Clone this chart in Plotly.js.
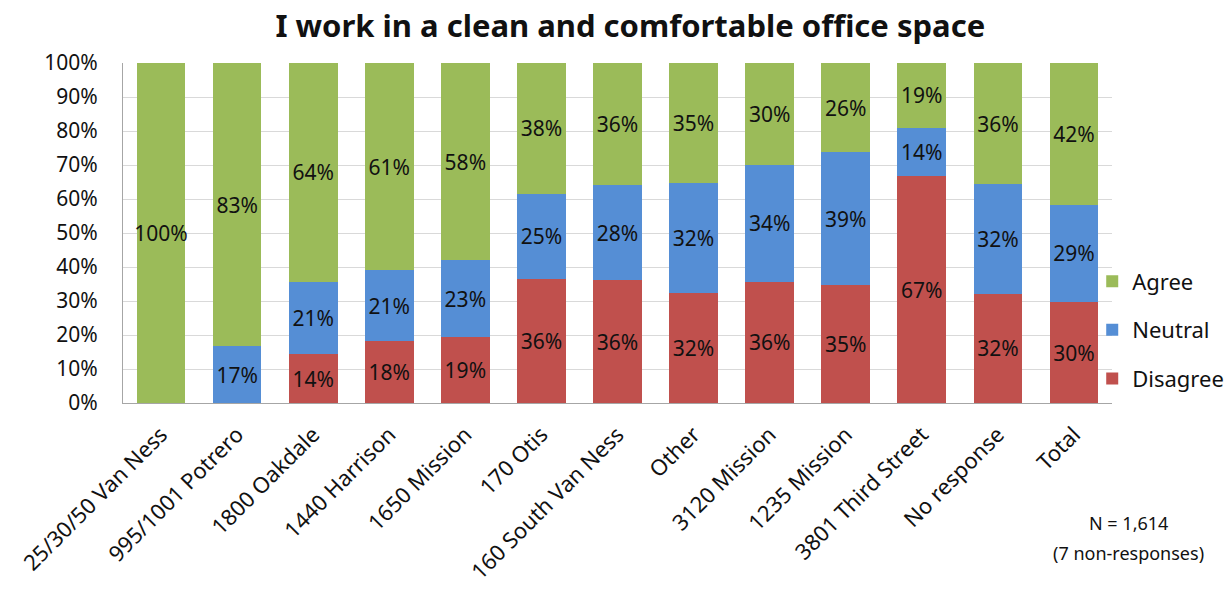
<!DOCTYPE html>
<html>
<head>
<meta charset="utf-8">
<script src="https://cdn.plot.ly/plotly-3.0.1.min.js"></script>
<style>html,body{margin:0;padding:0;background:#fff;}#chart{width:1231px;height:592px;}</style>
</head>
<body>
<div id="chart"></div>
<script>
const categories = ["25/30/50 Van Ness","995/1001 Potrero","1800 Oakdale","1440 Harrison","1650 Mission","170 Otis","160 South Van Ness","Other","3120 Mission","1235 Mission","3801 Third Street","No response","Total"];
const disagree = [0, 0, 14.3, 18.2, 19.4, 36.4, 36.1, 32.4, 35.7, 34.7, 66.7, 32.2, 29.7];
const neutral  = [0, 16.7, 21.4, 20.9, 22.6, 25.2, 28.0, 32.3, 34.2, 39.1, 14.3, 32.2, 28.6];
const agree    = [100, 83.3, 64.3, 60.9, 58.0, 38.4, 35.9, 35.3, 30.1, 26.2, 19.0, 35.6, 41.7];
const yTicks = [0,10,20,30,40,50,60,70,80,90,100];

const FONT = "Noto Sans, Open Sans, sans-serif";
function labels(arr){ return arr.map(v => v > 0 ? Math.round(v) + "%" : ""); }
function mk(name, vals, color, rank){
  return {
    type: "bar", name: name, x: categories, y: vals,
    marker: {color: color},
    text: labels(vals), textposition: "inside", insidetextanchor: "middle",
    textangle: 0, constraintext: "none",
    textfont: {family: FONT, size: 21, color: "#111"},
    legendgroup: name, legendrank: rank, hoverinfo: "x+y+name"
  };
}
const data = [
  mk("Disagree", disagree, "#C0504D", 3),
  mk("Neutral", neutral, "#558ED5", 2),
  mk("Agree", agree, "#9BBB59", 1)
];
const layout = {
  width: 1231, height: 592,
  margin: {l: 123, r: 119, t: 63, b: 189, autoexpand: false},
  paper_bgcolor: "#fff", plot_bgcolor: "#fff",
  barmode: "stack", bargap: 0.36,
  font: {family: FONT, color: "#111"},
  title: {text: "<b>I work in a clean and comfortable office space</b>", font: {family: FONT, size: 31, color: "#111"}, x: 0.512, xanchor: "center", y: 0.955, yanchor: "middle"},
  xaxis: {
    tickangle: -45, tickfont: {family: FONT, size: 22, color: "#111"},
    showline: true, linecolor: "#a6a6a6", linewidth: 1,
    ticks: "outside", ticklen: 9, tickcolor: "rgba(0,0,0,0)",
    showgrid: false, fixedrange: true
  },
  yaxis: {
    range: [0, 100], tickvals: yTicks, ticktext: yTicks.map(v => v + "%"),
    tickfont: {family: FONT, size: 21, color: "#111"},
    showgrid: true, gridcolor: "#d9d9d9", gridwidth: 1,
    showline: true, linecolor: "#a6a6a6", linewidth: 1, ticks: "", ticklabelstandoff: 20,
    zeroline: false, fixedrange: true
  },
  legend: {
    x: 0.98, xanchor: "left", y: 0.215, yanchor: "middle",
    traceorder: "grouped", tracegroupgap: 17, bgcolor: "rgba(0,0,0,0)",
    font: {family: FONT, size: 22, color: "#111"}, itemwidth: 30
  },
  annotations: [
    {xref: "paper", yref: "paper", x: 1.017, y: -0.353, xanchor: "center", yanchor: "middle",
     text: "N = 1,614", showarrow: false, font: {family: FONT, size: 18, color: "#111"}},
    {xref: "paper", yref: "paper", x: 1.017, y: -0.441, xanchor: "center", yanchor: "middle",
     text: "(7 non-responses)", showarrow: false, font: {family: FONT, size: 18, color: "#111"}}
  ]
};
Plotly.newPlot("chart", data, layout, {displayModeBar: false, staticPlot: true});
</script>
</body>
</html>
